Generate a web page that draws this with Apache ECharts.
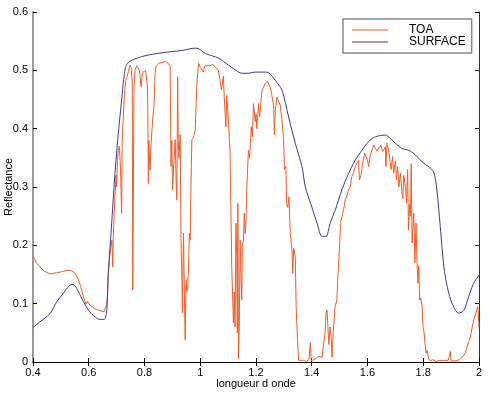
<!DOCTYPE html>
<html>
<head>
<meta charset="utf-8">
<script src="https://cdn.jsdelivr.net/npm/echarts@6/dist/echarts.min.js"></script>
<style>
html,body{margin:0;padding:0;background:#fff;}
#chart{width:490px;height:395px;}
</style>
</head>
<body>
<div id="chart"></div>
<script>
// x ticks / y ticks
const xTicks = [0.4, 0.6, 0.8, 1, 1.2, 1.4, 1.6, 1.8, 2];
const yTicks = [0, 0.1, 0.2, 0.3, 0.4, 0.5, 0.6];

// TOA reflectance (wavelength in micrometres, reflectance)
const toaX = [0.400,0.412,0.425,0.440,0.461,0.485,0.505,0.521,0.535,0.545,0.555,0.563,0.572,0.581,0.590,0.595,0.599,0.605,0.611,0.620,0.629,0.640,0.647,0.655,0.659,0.664,0.667,0.670,0.676,0.680,0.683,0.686,0.688,0.691,0.694,0.698,0.700,0.703,0.706,0.710,0.714,0.718,0.720,0.724,0.728,0.733,0.738,0.742,0.748,0.752,0.756,0.758,0.760,0.762,0.766,0.772,0.778,0.782,0.786,0.788,0.791,0.795,0.800,0.804,0.808,0.811,0.814,0.816,0.818,0.820,0.823,0.826,0.830,0.834,0.838,0.842,0.850,0.860,0.874,0.885,0.892,0.895,0.898,0.901,0.904,0.910,0.914,0.916,0.919,0.921,0.924,0.928,0.931,0.934,0.936,0.938,0.940,0.943,0.946,0.949,0.952,0.955,0.958,0.961,0.964,0.967,0.970,0.976,0.982,0.988,0.994,1.000,1.005,1.011,1.016,1.025,1.035,1.045,1.053,1.060,1.065,1.071,1.076,1.083,1.086,1.092,1.095,1.101,1.107,1.113,1.119,1.122,1.125,1.128,1.131,1.133,1.135,1.137,1.140,1.143,1.146,1.149,1.151,1.155,1.158,1.161,1.164,1.167,1.173,1.177,1.183,1.187,1.191,1.197,1.200,1.203,1.209,1.213,1.218,1.222,1.227,1.233,1.241,1.246,1.251,1.256,1.261,1.263,1.266,1.269,1.275,1.280,1.287,1.293,1.299,1.302,1.307,1.310,1.314,1.318,1.323,1.329,1.332,1.335,1.341,1.344,1.349,1.353,1.360,1.370,1.380,1.390,1.395,1.398,1.405,1.415,1.425,1.432,1.437,1.442,1.448,1.451,1.455,1.458,1.461,1.466,1.470,1.473,1.477,1.480,1.484,1.490,1.493,1.496,1.499,1.502,1.505,1.510,1.514,1.520,1.526,1.532,1.538,1.544,1.550,1.556,1.562,1.568,1.571,1.577,1.582,1.590,1.595,1.600,1.604,1.610,1.616,1.622,1.628,1.634,1.640,1.648,1.654,1.660,1.664,1.666,1.670,1.676,1.682,1.685,1.690,1.694,1.700,1.704,1.708,1.713,1.718,1.724,1.727,1.730,1.736,1.740,1.744,1.747,1.751,1.754,1.757,1.760,1.766,1.770,1.774,1.778,1.781,1.784,1.787,1.791,1.796,1.799,1.803,1.806,1.810,1.814,1.819,1.825,1.835,1.845,1.860,1.875,1.890,1.897,1.900,1.915,1.930,1.940,1.945,1.950,1.957,1.963,1.969,1.975,1.981,1.989,1.995,1.998,2.000];
const toaY = [0.182,0.170,0.163,0.156,0.151,0.153,0.155,0.157,0.157,0.155,0.149,0.141,0.128,0.112,0.099,0.104,0.103,0.097,0.094,0.092,0.090,0.088,0.087,0.086,0.088,0.098,0.112,0.152,0.185,0.200,0.209,0.163,0.215,0.250,0.283,0.320,0.300,0.345,0.363,0.370,0.330,0.255,0.380,0.420,0.460,0.483,0.490,0.498,0.509,0.505,0.480,0.123,0.286,0.470,0.500,0.508,0.508,0.500,0.480,0.472,0.490,0.497,0.495,0.500,0.497,0.470,0.306,0.380,0.345,0.329,0.370,0.392,0.420,0.438,0.495,0.508,0.512,0.513,0.515,0.512,0.507,0.335,0.380,0.295,0.330,0.381,0.300,0.278,0.489,0.380,0.350,0.390,0.209,0.150,0.084,0.160,0.221,0.118,0.038,0.141,0.120,0.130,0.163,0.221,0.209,0.312,0.381,0.385,0.398,0.478,0.512,0.505,0.503,0.497,0.507,0.508,0.508,0.510,0.506,0.503,0.500,0.483,0.466,0.490,0.455,0.403,0.457,0.415,0.358,0.163,0.067,0.120,0.060,0.238,0.180,0.050,0.272,0.005,0.060,0.209,0.150,0.106,0.200,0.209,0.255,0.220,0.240,0.300,0.363,0.350,0.403,0.386,0.443,0.412,0.425,0.400,0.443,0.420,0.448,0.466,0.471,0.478,0.481,0.478,0.471,0.460,0.445,0.440,0.389,0.430,0.454,0.452,0.440,0.415,0.381,0.330,0.335,0.272,0.265,0.283,0.221,0.192,0.152,0.195,0.180,0.095,0.038,0.003,0.001,0.003,0.001,0.004,0.033,0.002,0.003,0.006,0.010,0.012,0.008,0.030,0.049,0.084,0.089,0.060,0.030,0.060,0.040,0.008,0.050,0.070,0.095,0.106,0.140,0.163,0.192,0.221,0.243,0.240,0.260,0.278,0.285,0.295,0.300,0.318,0.325,0.335,0.338,0.346,0.312,0.320,0.340,0.358,0.360,0.346,0.335,0.355,0.363,0.372,0.369,0.362,0.363,0.372,0.361,0.365,0.369,0.335,0.375,0.362,0.362,0.330,0.352,0.324,0.345,0.312,0.335,0.300,0.324,0.289,0.280,0.320,0.301,0.272,0.330,0.226,0.270,0.250,0.340,0.204,0.255,0.170,0.238,0.165,0.135,0.165,0.106,0.110,0.095,0.060,0.050,0.033,0.015,0.020,0.006,0.002,0.004,0.001,0.003,0.002,0.003,0.018,0.002,0.002,0.004,0.008,0.010,0.015,0.026,0.035,0.043,0.058,0.072,0.084,0.095,0.080,0.060];

// Surface reflectance
const surfX = [0.400,0.425,0.461,0.485,0.509,0.525,0.539,0.548,0.557,0.575,0.599,0.623,0.641,0.655,0.660,0.665,0.670,0.683,0.694,0.706,0.718,0.728,0.736,0.754,0.802,0.862,0.934,0.982,0.995,1.018,1.065,1.101,1.125,1.149,1.173,1.197,1.233,1.245,1.269,1.293,1.317,1.341,1.365,1.377,1.400,1.419,1.437,1.451,1.466,1.484,1.508,1.532,1.556,1.580,1.604,1.628,1.664,1.682,1.700,1.724,1.748,1.772,1.796,1.819,1.837,1.849,1.861,1.874,1.886,1.903,1.927,1.945,1.963,1.981,2.000];
const surfY = [0.059,0.069,0.083,0.103,0.118,0.128,0.133,0.132,0.126,0.109,0.089,0.077,0.073,0.073,0.076,0.090,0.150,0.243,0.323,0.392,0.449,0.495,0.510,0.517,0.525,0.530,0.534,0.538,0.537,0.529,0.521,0.509,0.501,0.495,0.495,0.497,0.497,0.496,0.483,0.466,0.420,0.375,0.335,0.300,0.266,0.238,0.215,0.215,0.238,0.260,0.295,0.323,0.346,0.363,0.378,0.386,0.389,0.383,0.375,0.366,0.363,0.355,0.343,0.335,0.326,0.295,0.232,0.163,0.129,0.101,0.084,0.088,0.112,0.135,0.149];

const seriesNames = ['TOA', 'SURFACE'];

const toaData = toaX.map((x, i) => [x, toaY[i]]);
const surfData = surfX.map((x, i) => [x, surfY[i]]);

const fmt = v => String(parseFloat(Number(v).toFixed(2)));
const font = 'Liberation Sans, Arial, Helvetica, sans-serif';

const chart = echarts.init(document.getElementById('chart'), null, {renderer: 'canvas'});
chart.setOption({
  animation: false,
  backgroundColor: '#fff',
  grid: {left: 33, right: 11, top: 12, bottom: 33, containLabel: false, outerBoundsMode: 'none'},
  legend: {
    orient: 'vertical',
    left: 343, top: 19,
    data: seriesNames,
    icon: 'rect',
    itemWidth: 36, itemHeight: 1,
    itemGap: 0,
    padding: [5, 6, 5, 9],
    backgroundColor: '#fff',
    borderColor: '#888', borderWidth: 1.5,
    textStyle: {fontFamily: font, fontSize: 12, color: '#000', padding: [0, 0, 0, 16], lineHeight: 10}
  },
  xAxis: [{
    type: 'value', min: xTicks[0], max: xTicks[xTicks.length - 1], interval: 0.2,
    name: 'longueur d onde', nameLocation: 'middle', nameGap: 16, nameMoveOverlap: false,
    nameTextStyle: {fontFamily: font, fontSize: 11, color: '#000'},
    axisLine: {show: true, lineStyle: {color: '#666', width: 1}},
    axisTick: {show: true, inside: true, length: 4, lineStyle: {color: '#000'}},
    axisLabel: {fontFamily: font, fontSize: 11, color: '#000', margin: 5, formatter: fmt},
    splitLine: {show: false}
  }, {
    type: 'value', position: 'top', min: xTicks[0], max: xTicks[xTicks.length - 1], interval: 0.2,
    axisLine: {show: true, lineStyle: {color: '#000', width: 1}},
    axisTick: {show: true, inside: true, length: 4, lineStyle: {color: '#000'}},
    axisLabel: {show: false}, splitLine: {show: false}
  }],
  yAxis: [{
    type: 'value', min: yTicks[0], max: yTicks[yTicks.length - 1], interval: 0.1,
    name: 'Reflectance', nameLocation: 'middle', nameGap: 19, nameRotate: 90, nameMoveOverlap: false,
    nameTextStyle: {fontFamily: font, fontSize: 11, color: '#000'},
    axisLine: {show: true, lineStyle: {color: '#999', width: 2}},
    axisTick: {show: true, inside: true, length: 4, lineStyle: {color: '#000'}},
    axisLabel: {fontFamily: font, fontSize: 11, color: '#000', margin: 5, formatter: fmt},
    splitLine: {show: false}
  }, {
    type: 'value', position: 'right', min: yTicks[0], max: yTicks[yTicks.length - 1], interval: 0.1,
    axisLine: {show: true, lineStyle: {color: '#333', width: 1}},
    axisTick: {show: true, inside: true, length: 4, lineStyle: {color: '#000'}},
    axisLabel: {show: false}, splitLine: {show: false}
  }],
  series: [{
    name: seriesNames[0], type: 'line', data: toaData, xAxisIndex: 0, yAxisIndex: 0,
    showSymbol: false, symbol: 'none',
    lineStyle: {color: '#ec5d2a', width: 1}, itemStyle: {color: '#ec5d2a'}
  }, {
    name: seriesNames[1], type: 'line', data: surfData, xAxisIndex: 0, yAxisIndex: 0,
    showSymbol: false, symbol: 'none', smooth: 0.3,
    lineStyle: {color: '#3a3a90', width: 1}, itemStyle: {color: '#3a3a90'}
  }]
});
</script>
</body>
</html>
